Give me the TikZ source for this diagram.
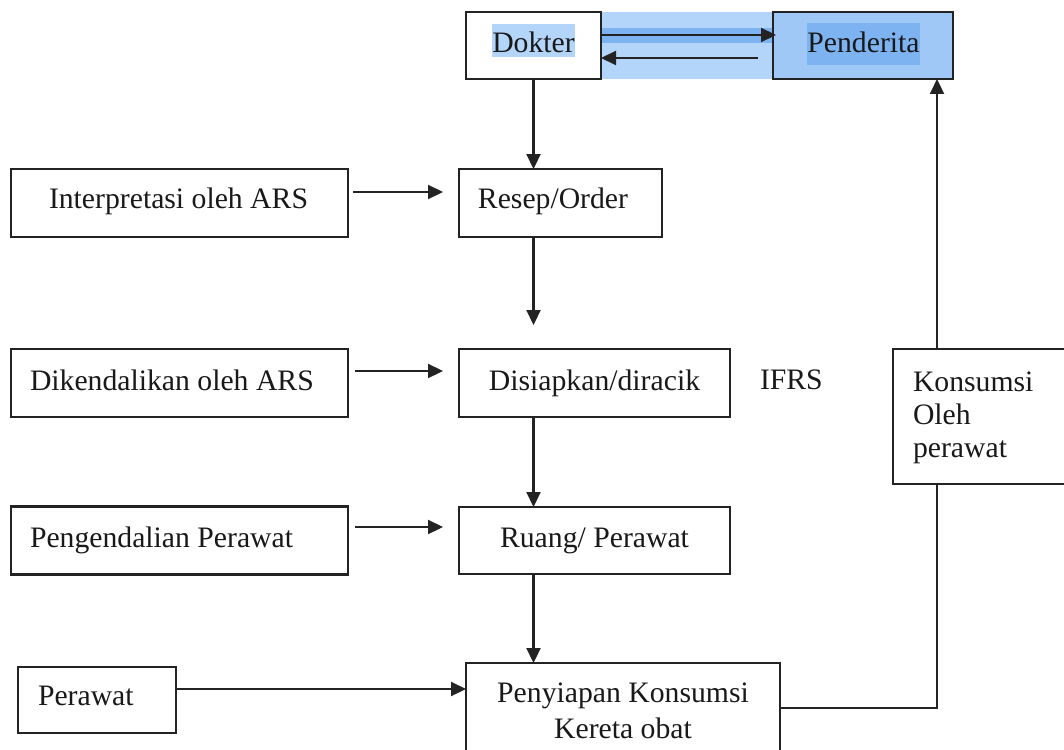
\documentclass[tikz,border=0pt]{standalone}
\usepackage{fontspec}
\setmainfont{Liberation Serif}
\usetikzlibrary{arrows.meta,calc}
\definecolor{bandblue}{RGB}{180,213,250}
\definecolor{penblue}{RGB}{160,200,246}
\definecolor{hlblue}{RGB}{126,179,242}
\definecolor{lineblack}{RGB}{35,35,35}
\definecolor{textblack}{RGB}{25,25,25}
\begin{document}
\begin{tikzpicture}[x=1pt,y=1pt,
  box/.style={draw=lineblack,line width=2.2pt,rectangle,inner sep=0pt,outer sep=0pt},
  txt/.style={font=\fontsize{29.7}{34}\selectfont,inner sep=0pt,outer sep=0pt,anchor=base,text=textblack},
  txtw/.style={txt,anchor=base west},
  conn/.style={line width=2.2pt,draw=lineblack},
  arr/.style={conn,-{Triangle[length=15pt,width=14pt]}}]
\clip (0,0) rectangle (1064,-749);
\fill[white] (0,0) rectangle (1064,-749);

% blue selection band between Dokter and Penderita
\fill[bandblue] (601,-12) rectangle (773,-79);
\fill[hlblue] (601,-28) rectangle (773,-43);

% boxes
\node[box,fill=white,minimum width=135pt,minimum height=67pt] (dok) at (533.5,-45.5) {};
\node[box,fill=penblue,minimum width=180pt,minimum height=67pt] (pen) at (863,-45.5) {};
\fill[bandblue] (492,-24) rectangle (575,-57);
\fill[hlblue] (807,-23) rectangle (920,-65);

\node[box,minimum width=203pt,minimum height=68pt] (res) at (560.5,-203) {};
\node[box,minimum width=337pt,minimum height=68pt] (int) at (179.5,-203) {};
\node[box,minimum width=271pt,minimum height=68pt] (dis) at (594.5,-383) {};
\node[box,minimum width=337pt,minimum height=68pt] (dik) at (179.5,-383) {};
\node[box,minimum width=271pt,minimum height=67pt] (rua) at (594.5,-540.5) {};
\node[box,minimum width=337pt,minimum height=68pt] (png) at (179.5,-540.5) {};
\node[box,minimum width=158pt,minimum height=66pt] (per) at (97,-700) {};
\node[box,minimum width=314pt,minimum height=112pt] (pny) at (623,-719) {};
\node[box,minimum width=187pt,minimum height=135pt] (kon) at (986.5,-416.5) {};

% texts
\node[txt] (tdok) at (533.5,-53) {Dokter};
\node[txt] (tpen) at (863.5,-53) {Penderita};
\node[txt] (tres) at (553,-208) {Resep/Order};
\node[txtw] (tint) at (49,-208) {Interpretasi oleh ARS};
\node[txt] (tdis) at (594.5,-390) {Disiapkan/diracik};
\node[txtw] (tdik) at (30,-390) {Dikendalikan oleh ARS};
\node[txtw] (tifrs) at (760,-389) {IFRS};
\node[txt] (trua) at (594.5,-547) {Ruang/ Perawat};
\node[txtw] (tpng) at (30,-547) {Pengendalian Perawat};
\node[txtw] (tper) at (38,-705) {Perawat};
\node[txt] (tpny1) at (623,-702) {Penyiapan Konsumsi};
\node[txt] (tpny2) at (623,-738) {Kereta obat};
\node[txtw] (tkon1) at (913,-391) {Konsumsi};
\node[txtw] (tkon2) at (913,-424) {Oleh};
\node[txtw] (tkon3) at (913,-457) {perawat};

% connectors between Dokter and Penderita
\draw[arr] ([yshift=10.5pt]dok.east) -- ([xshift=3pt,yshift=10.5pt]pen.west);
\draw[arr] ([xshift=-15pt,yshift=-12.5pt]pen.west) -- ([yshift=-12.5pt]dok.east);

% vertical chain
\draw[arr] (dok.south) -- (dok.south |- res.north);
\draw[arr] (dok.south |- res.south) -- ($(dok.south |- dis.north)+(0,24)$);
\draw[arr] (dok.south |- dis.south) -- (dok.south |- rua.north);
\draw[arr] (dok.south |- rua.south) -- (dok.south |- pny.north);

% horizontal arrows from the left
\draw[arr] ([xshift=5pt,yshift=11pt]int.east) -- ([xshift=-16pt,yshift=11pt]res.west);
\draw[arr] ([xshift=7pt,yshift=12pt]dik.east) -- ([xshift=-16pt,yshift=12pt]dis.west);
\draw[arr] ([xshift=7pt,yshift=13.5pt]png.east) -- ([xshift=-16pt,yshift=13.5pt]rua.west);
\draw[arr] ($(per.east)+(0,11)$) -- ($(per.east -| pny.west)+(0,11)$);

% return path to Penderita
\coordinate (kx) at ([xshift=44pt]kon.north west);
\coordinate (kxs) at ([xshift=44pt]kon.south west);
\draw[conn] ([yshift=11pt]pny.east) -| (kxs);
\draw[arr] (kx) -- (kx |- pen.south);
\end{tikzpicture}
\end{document}
